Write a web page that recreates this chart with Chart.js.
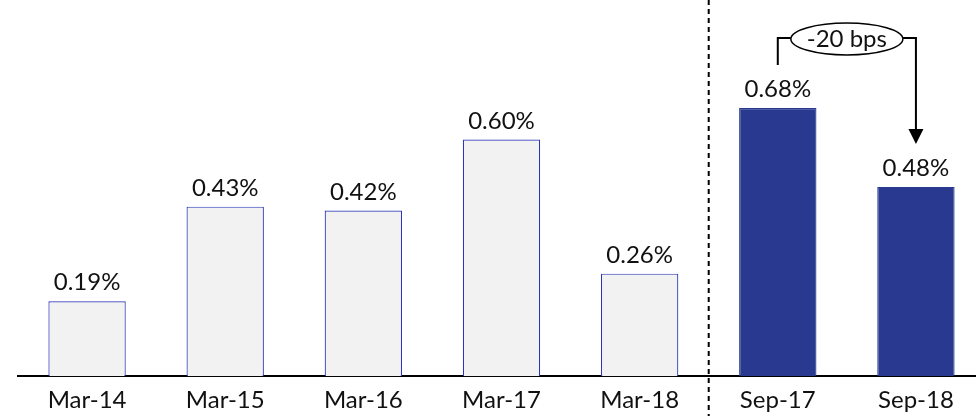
<!DOCTYPE html>
<html>
<head>
<meta charset="utf-8">
<script src="https://cdn.jsdelivr.net/npm/chart.js@4"></script>
<style>
  html, body { margin: 0; padding: 0; background: #fff; overflow: hidden; }
  #wrap { width: 985px; height: 425px; position: relative; }
</style>
</head>
<body>
<div id="wrap"><canvas id="myChart"></canvas></div>
<script>
var periods = ['Mar-14', 'Mar-15', 'Mar-16', 'Mar-17', 'Mar-18', 'Sep-17', 'Sep-18'];
var ratios = [0.19, 0.43, 0.42, 0.60, 0.26, 0.68, 0.48];
var changeText = '-20 bps';

var fills = ['#f2f2f2', '#f2f2f2', '#f2f2f2', '#f2f2f2', '#f2f2f2', '#2a3990', '#2a3990'];
var borders = ['#2c38b8', '#2c38b8', '#2c38b8', '#2c38b8', '#2c38b8', '#2a3990', '#2a3990'];
var fontFamily = 'Lato, "Open Sans", sans-serif';

var extrasPlugin = {
    id: 'extras',
    afterDatasetsDraw: function (chart) {
        var ctx = chart.ctx;
        var x = chart.scales.x;
        var y = chart.scales.y;

        // value labels
        ctx.save();
        ctx.font = '24px ' + fontFamily;
        ctx.fillStyle = '#111';
        ctx.textAlign = 'center';
        ctx.textBaseline = 'alphabetic';
        ratios.forEach(function (v, i) {
            ctx.fillText(v.toFixed(2) + '%', x.getPixelForValue(i), y.getPixelForValue(v) - 11);
        });
        ctx.restore();

        // dashed divider between Mar-18 and Sep-17
        var divX = (x.getPixelForValue(4) + x.getPixelForValue(5)) / 2;
        ctx.save();
        ctx.strokeStyle = '#000';
        ctx.lineWidth = 2;
        ctx.setLineDash([5, 4]);
        ctx.beginPath();
        ctx.moveTo(divX, 0);
        ctx.lineTo(divX, chart.height);
        ctx.stroke();
        ctx.restore();

        // bracket arrow from Sep-17 to Sep-18
        var x1 = x.getPixelForValue(5);
        var x2 = x.getPixelForValue(6);
        var startY = y.getPixelForValue(ratios[5]) - 43;
        var endY = y.getPixelForValue(ratios[6]) - 43;
        var topY = 38;
        var ex = (x1 + x2) / 2;
        var ew = 56, eh = 16;

        ctx.save();
        ctx.strokeStyle = '#000';
        ctx.fillStyle = '#000';
        ctx.lineWidth = 2;
        ctx.beginPath();
        ctx.moveTo(x1, startY);
        ctx.lineTo(x1, topY);
        ctx.lineTo(ex - ew, topY);
        ctx.moveTo(ex + ew, topY);
        ctx.lineTo(x2, topY);
        ctx.lineTo(x2, endY - 14);
        ctx.stroke();
        ctx.beginPath();
        ctx.moveTo(x2 - 7.5, endY - 15);
        ctx.lineTo(x2 + 7.5, endY - 15);
        ctx.lineTo(x2, endY);
        ctx.closePath();
        ctx.fill();

        ctx.lineWidth = 1.5;
        ctx.fillStyle = '#fff';
        ctx.beginPath();
        ctx.ellipse(ex, topY + 1, ew, eh, 0, 0, Math.PI * 2);
        ctx.fill();
        ctx.stroke();
        ctx.fillStyle = '#111';
        ctx.font = '24px ' + fontFamily;
        ctx.textAlign = 'center';
        ctx.textBaseline = 'middle';
        ctx.fillText(changeText, ex, topY + 1);
        ctx.restore();
    }
};

var ctx = document.getElementById('myChart').getContext('2d');
var myChart = new Chart(ctx, {
    type: 'bar',
    data: {
        labels: periods,
        datasets: [{
            data: ratios,
            backgroundColor: fills,
            borderColor: borders,
            borderWidth: 1.2,
            categoryPercentage: 1,
            barPercentage: 0.56
        }]
    },
    options: {
        responsive: true,
        maintainAspectRatio: false,
        animation: false,
        layout: { padding: { left: 18, right: 0, top: 0, bottom: 0 } },
        plugins: {
            legend: { display: false },
            tooltip: { enabled: false }
        },
        scales: {
            x: {
                grid: { display: false, drawTicks: false },
                border: { display: true, color: '#000', width: 2 },
                ticks: {
                    color: '#111',
                    padding: 10,
                    font: { size: 24, family: fontFamily }
                }
            },
            y: {
                display: false,
                min: 0,
                max: 0.954
            }
        }
    },
    plugins: [extrasPlugin]
});
</script>
</body>
</html>
